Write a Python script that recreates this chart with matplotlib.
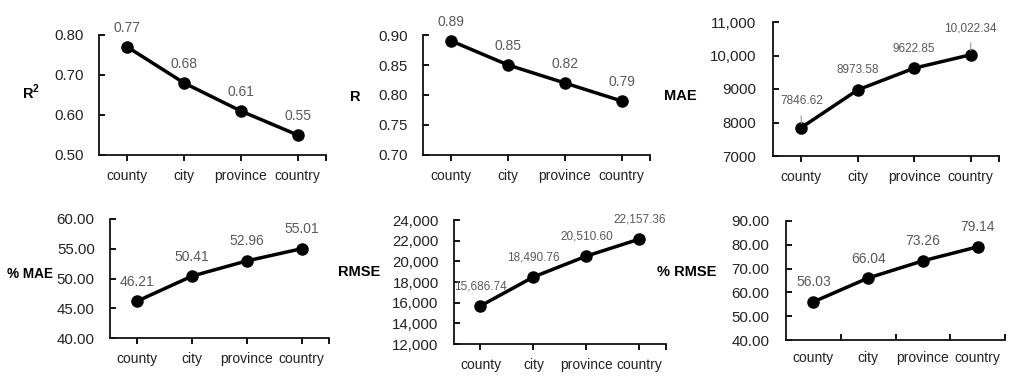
import matplotlib
matplotlib.use("Agg")
import matplotlib.pyplot as plt
from matplotlib.ticker import FixedLocator

plt.rcParams['font.family'] = ['Liberation Sans', 'DejaVu Sans']

categories = ["county", "city", "province", "country"]

r2_values = [0.77, 0.68, 0.61, 0.55]
r_values = [0.89, 0.85, 0.82, 0.79]
mae_values = [7846.62, 8973.58, 9622.85, 10022.34]
pmae_values = [46.21, 50.41, 52.96, 55.01]
rmse_values = [15686.74, 18490.76, 20510.60, 22157.36]
prmse_values = [56.03, 66.04, 73.26, 79.14]

r2_labels = ["0.77", "0.68", "0.61", "0.55"]
r_labels = ["0.89", "0.85", "0.82", "0.79"]
mae_labels = ["7846.62", "8973.58", "9622.85", "10,022.34"]
pmae_labels = ["46.21", "50.41", "52.96", "55.01"]
rmse_labels = ["15,686.74", "18,490.76", "20,510.60", "22,157.36"]
prmse_labels = ["56.03", "66.04", "73.26", "79.14"]

r2_ticks = [0.50, 0.60, 0.70, 0.80]
r2_ticklabels = ["0.50", "0.60", "0.70", "0.80"]
r_ticks = [0.70, 0.75, 0.80, 0.85, 0.90]
r_ticklabels = ["0.70", "0.75", "0.80", "0.85", "0.90"]
mae_ticks = [7000, 8000, 9000, 10000, 11000]
mae_ticklabels = ["7000", "8000", "9000", "10,000", "11,000"]
pmae_ticks = [40, 45, 50, 55, 60]
pmae_ticklabels = ["40.00", "45.00", "50.00", "55.00", "60.00"]
rmse_ticks = [12000, 14000, 16000, 18000, 20000, 22000, 24000]
rmse_ticklabels = ["12,000", "14,000", "16,000", "18,000", "20,000", "22,000", "24,000"]
prmse_ticks = [40, 50, 60, 70, 80, 90]
prmse_ticklabels = ["40.00", "50.00", "60.00", "70.00", "80.00", "90.00"]

W, H = 1020, 376
fig = plt.figure(figsize=(W / 100, H / 100), dpi=100)

def make_ax(left, right, top, bottom):
    return fig.add_axes([left / W, 1 - bottom / H, (right - left) / W, (bottom - top) / H])

GREY = "#595959"

def panel(box, values, labels, ticks, ticklabels, ylabel, ylabel_xy,
          label_size=10, offsets=None, leaders=None, between=False, ypad=11, ylabel_size=10.5):
    ax = make_ax(*box)
    x = list(range(len(categories)))
    ax.plot(x, values, color="black", lw=2.5, marker="o", ms=8, solid_capstyle="round", zorder=3)
    ax.set_xlim(-0.5, len(categories) - 0.5)
    ax.set_ylim(ticks[0], ticks[-1])
    ax.set_yticks(ticks)
    ax.set_yticklabels(ticklabels, fontsize=10.8, color="#222222")
    ax.set_xticks(x)
    ax.set_xticklabels(categories, fontsize=10, color="#222222")
    for s in ["top", "right"]:
        ax.spines[s].set_visible(False)
    for s in ["left", "bottom"]:
        ax.spines[s].set_linewidth(1.3)
        ax.spines[s].set_color("#111111")
    ax.tick_params(axis="y", direction="in", length=4, width=1.3, pad=ypad)
    if between:
        ax.tick_params(axis="x", which="major", length=0, pad=8)
        ax.xaxis.set_minor_locator(FixedLocator([0.5, 1.5, 2.5, 3.5]))
        ax.tick_params(axis="x", which="minor", direction="in", length=4, width=1.3)
    else:
        ax.tick_params(axis="x", which="major", direction="out", length=4, width=1.3, pad=6)
        ax.xaxis.set_minor_locator(FixedLocator([3.5]))
        ax.tick_params(axis="x", which="minor", direction="out", length=4, width=1.3)
    for i, (v, t) in enumerate(zip(values, labels)):
        off = 14 if offsets is None else offsets[i]
        if leaders is not None and leaders[i]:
            ax.annotate(t, (i, v), xytext=(0, off), textcoords="offset points",
                        ha="center", va="center", fontsize=label_size, color=GREY,
                        arrowprops=dict(arrowstyle="-", color="#9a9a9a", lw=0.8,
                                        shrinkA=4, shrinkB=3))
        else:
            ax.annotate(t, (i, v), xytext=(0, off), textcoords="offset points",
                        ha="center", va="center", fontsize=label_size, color=GREY)
    fig.text(ylabel_xy[0] / W, 1 - ylabel_xy[1] / H, ylabel, ha="center", va="center",
             fontsize=ylabel_size, fontweight="bold")
    return ax

panel((99, 326, 35, 155), r2_values, r2_labels, r2_ticks, r2_ticklabels, r"R$^\mathregular{2}$", (31, 92))
panel((423, 650, 35, 155), r_values, r_labels, r_ticks, r_ticklabels, "R", (355, 97))
panel((773, 999, 22, 156), mae_values, mae_labels, mae_ticks, mae_ticklabels, "MAE", (680, 96),
      label_size=8.5, offsets=[19, 14, 14, 19], leaders=[True, False, False, True], ypad=12)
panel((110, 329, 219, 338), pmae_values, pmae_labels, pmae_ticks, pmae_ticklabels, "% MAE", (30, 274),
      ylabel_size=9.8)
panel((454, 666, 220, 344), rmse_values, rmse_labels, rmse_ticks, rmse_ticklabels, "RMSE", (359, 272),
      label_size=8.5)
panel((786, 1005, 221, 340), prmse_values, prmse_labels, prmse_ticks, prmse_ticklabels, "% RMSE", (687, 272),
      between=True, ypad=12)

fig.savefig("out.png", dpi=100, facecolor="white")
